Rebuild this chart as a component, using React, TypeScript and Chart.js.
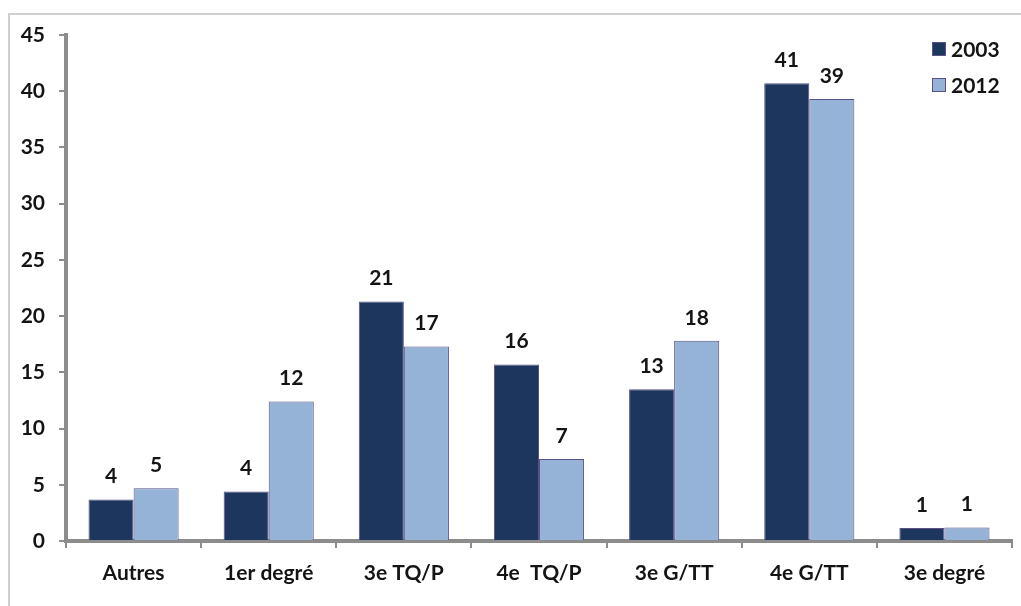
import React, { useEffect, useRef } from 'react';
import { Chart, registerables } from 'chart.js';

Chart.register(...registerables);

const categories = ['Autres', '1er degré', '3e TQ/P', '4e  TQ/P', '3e G/TT', '4e G/TT', '3e degré'];
const seriesNames = ['2003', '2012'];
const values2003 = [3.7, 4.4, 21.3, 15.7, 13.5, 40.7, 1.15];
const values2012 = [4.7, 12.4, 17.3, 7.3, 17.8, 39.3, 1.2];
const labels2003 = ['4', '4', '21', '16', '13', '41', '1'];
const labels2012 = ['5', '12', '17', '7', '18', '39', '1'];
const yMin = 0;
const yMax = 45;
const yStep = 5;

const DARK = '#1c365d';
const LIGHT = '#95b3d7';
const BORDER = '#5b5188';
const AXIS = '#8c8c8c';
const TEXT = '#141414';
const FONT = 'Lato, "Open Sans", sans-serif';
const FSIZE = 21;

const valueLabelsPlugin = {
  id: 'valueLabels',
  afterDatasetsDraw(chart: any) {
    const ctx = chart.ctx;
    const allLabels = [labels2003, labels2012];
    ctx.save();
    ctx.font = `bold ${FSIZE}px ${FONT}`;
    ctx.fillStyle = TEXT;
    ctx.textAlign = 'center';
    ctx.textBaseline = 'middle';
    chart.data.datasets.forEach((_: any, di: number) => {
      const meta = chart.getDatasetMeta(di);
      meta.data.forEach((bar: any, i: number) => {
        ctx.fillText(allLabels[di][i], bar.x, bar.y - 23);
      });
    });
    ctx.restore();
  },
};

const legendPlugin = {
  id: 'cornerLegend',
  afterDraw(chart: any) {
    const ctx = chart.ctx;
    const colors = [DARK, LIGHT];
    ctx.save();
    ctx.font = `bold ${FSIZE}px ${FONT}`;
    ctx.textAlign = 'left';
    ctx.textBaseline = 'middle';
    seriesNames.forEach((name, i) => {
      const y = 49 + i * 36;
      ctx.fillStyle = colors[i];
      ctx.fillRect(932, y - 7, 14, 14);
      ctx.strokeStyle = BORDER;
      ctx.lineWidth = 1;
      ctx.strokeRect(932.5, y - 6.5, 13, 13);
      ctx.fillStyle = TEXT;
      ctx.fillText(name, 951, y + 1);
    });
    ctx.restore();
  },
};

export default function App() {
  const ref = useRef<HTMLCanvasElement>(null);
  useEffect(() => {
    if (!ref.current) return;
    const chart = new Chart(ref.current, {
      type: 'bar',
      data: {
        labels: categories,
        datasets: [
          {
            label: seriesNames[0],
            data: values2003,
            backgroundColor: DARK,
            borderColor: BORDER,
            borderWidth: 1,
            categoryPercentage: 0.667,
            barPercentage: 1,
          },
          {
            label: seriesNames[1],
            data: values2012,
            backgroundColor: LIGHT,
            borderColor: BORDER,
            borderWidth: 1,
            categoryPercentage: 0.667,
            barPercentage: 1,
          },
        ],
      },
      options: {
        responsive: false,
        animation: false,
        layout: { padding: { top: 35, right: 9, left: 0, bottom: 0 } },
        plugins: {
          legend: { display: false },
          tooltip: { enabled: false },
        },
        scales: {
          x: {
            grid: {
              display: true,
              drawOnChartArea: false,
              drawTicks: true,
              tickLength: 7,
              color: AXIS,
              lineWidth: 2,
              offset: true,
            },
            border: { display: true, color: AXIS, width: 4 },
            ticks: {
              color: TEXT,
              font: { family: FONT, size: FSIZE, weight: 'bold' },
              padding: 13,
              maxRotation: 0,
              autoSkip: false,
            },
            afterFit(scale: any) {
              scale.height = 65;
            },
          },
          y: {
            min: yMin,
            max: yMax,
            grid: {
              display: true,
              drawOnChartArea: false,
              drawTicks: true,
              tickLength: 7,
              color: AXIS,
              lineWidth: 2,
            },
            border: { display: true, color: AXIS, width: 4 },
            ticks: {
              stepSize: yStep,
              color: TEXT,
              font: { family: FONT, size: FSIZE, weight: 'bold' },
              padding: 14,
            },
            afterFit(scale: any) {
              scale.width = 66;
            },
          },
        },
      },
      plugins: [valueLabelsPlugin, legendPlugin],
    });
    return () => chart.destroy();
  }, []);

  return (
    <div style={{ position: 'fixed', left: 0, top: 0, width: 1021, height: 606, background: '#fff' }}>
      <div
        style={{
          position: 'absolute',
          left: 8,
          top: 13,
          right: 0,
          bottom: 0,
          borderTop: '2px solid #cfcfcf',
          borderLeft: '2px solid #cfcfcf',
        }}
      />
      <canvas ref={ref} width={1021} height={606} style={{ position: 'absolute', left: 0, top: 0 }} />
    </div>
  );
}
